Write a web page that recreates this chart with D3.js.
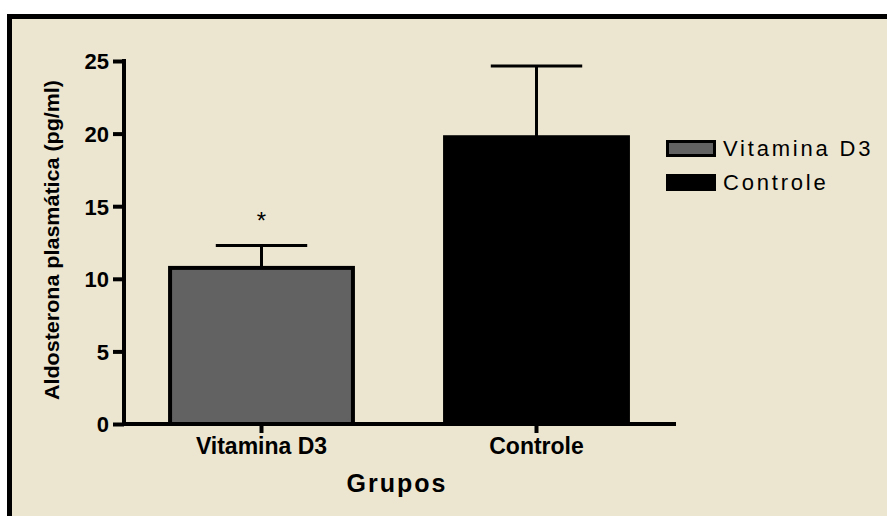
<!DOCTYPE html>
<html>
<head>
<meta charset="utf-8">
<script src="https://cdn.jsdelivr.net/npm/d3@7"></script>
<style>
    body { margin: 0; background: #fff; }
    svg { display: block; }
    text { font-family: "Liberation Sans", Arial, sans-serif; }
</style>
</head>
<body>
<div id="container"></div>
<script>
// 数据
const groups = ["Vitamina D3", "Controle"];
const means = [10.75, 19.75];
const sems = [1.55, 4.9];
const marks = ["*", ""];
const yTicks = [0, 5, 10, 15, 20, 25];

const W = 887, H = 516;
const fills = ["#626262", "#000000"];

const svg = d3.select("#container").append("svg")
    .attr("width", W).attr("height", H);

// 背景框
svg.append("rect")
    .attr("x", 9.5).attr("y", 16.5)
    .attr("width", W + 10).attr("height", H + 10)
    .attr("fill", "#ece6d0")
    .attr("stroke", "#000").attr("stroke-width", 5);

const y = d3.scaleLinear().domain([0, 25]).range([424, 61]);
const x = d3.scaleBand().domain(groups).range([124, 674]).padding(0);
const barW = x.bandwidth() * 0.665;

// y 轴
const yAxis = svg.append("g")
    .attr("transform", "translate(124,0)")
    .call(d3.axisLeft(y).tickValues(yTicks).tickSize(11).tickSizeOuter(0).tickPadding(4));
yAxis.select(".domain").remove();
yAxis.selectAll(".tick line").attr("stroke", "#000").attr("stroke-width", 4);
yAxis.selectAll(".tick text")
    .attr("fill", "#000")
    .style("font-size", "22px").style("font-weight", "bold")
    .attr("dy", "0.36em");
svg.append("line")
    .attr("x1", 124).attr("x2", 124)
    .attr("y1", y(25) - 2).attr("y2", y(0) + 2)
    .attr("stroke", "#000").attr("stroke-width", 4);

// 柱子
const bars = svg.append("g");
bars.selectAll("rect")
    .data(groups)
    .enter()
    .append("rect")
    .attr("x", (d) => x(d) + x.bandwidth() / 2 - barW / 2)
    .attr("y", (d, i) => y(means[i]))
    .attr("width", barW)
    .attr("height", (d, i) => y(0) - y(means[i]))
    .attr("fill", (d, i) => fills[i])
    .attr("stroke", "#000")
    .attr("stroke-width", 4);

// 误差线
const err = svg.append("g");
groups.forEach((g, i) => {
    const cx = x(g) + x.bandwidth() / 2;
    err.append("line")
        .attr("x1", cx).attr("x2", cx)
        .attr("y1", y(means[i])).attr("y2", y(means[i] + sems[i]))
        .attr("stroke", "#000").attr("stroke-width", 3);
    err.append("line")
        .attr("x1", cx - barW / 4).attr("x2", cx + barW / 4)
        .attr("y1", y(means[i] + sems[i])).attr("y2", y(means[i] + sems[i]))
        .attr("stroke", "#000").attr("stroke-width", 3);
    if (marks[i]) {
        err.append("text")
            .attr("x", cx).attr("y", y(means[i] + sems[i]) - 16)
            .attr("text-anchor", "middle")
            .style("font-size", "24px")
            .text(marks[i]);
    }
});

// x 轴
const xAxis = svg.append("g")
    .attr("transform", "translate(0,424)")
    .call(d3.axisBottom(x).tickSize(9).tickSizeOuter(0).tickPadding(5));
xAxis.select(".domain").remove();
xAxis.selectAll(".tick line").attr("stroke", "#000").attr("stroke-width", 4);
xAxis.selectAll(".tick text")
    .attr("fill", "#000")
    .style("font-size", "23px").style("font-weight", "bold");
svg.append("line")
    .attr("x1", 122).attr("x2", 676)
    .attr("y1", 424).attr("y2", 424)
    .attr("stroke", "#000").attr("stroke-width", 4);

// 轴标题
svg.append("text")
    .attr("x", 397).attr("y", 492)
    .attr("text-anchor", "middle")
    .style("font-size", "25px").style("font-weight", "bold")
    .style("letter-spacing", "2px")
    .text("Grupos");

svg.append("text")
    .attr("transform", "translate(59,240) rotate(-90)")
    .attr("text-anchor", "middle")
    .attr("textLength", 320)
    .attr("lengthAdjust", "spacingAndGlyphs")
    .style("font-size", "20px").style("font-weight", "bold")
    .text("Aldosterona plasmática (pg/ml)");

// 图例
const legend = svg.append("g");
groups.forEach((g, i) => {
    const ly = 140 + i * 34;
    legend.append("rect")
        .attr("x", 667.5).attr("y", ly + 1.5)
        .attr("width", 47).attr("height", 14)
        .attr("fill", fills[i])
        .attr("stroke", "#000").attr("stroke-width", 3);
    legend.append("text")
        .attr("x", 723).attr("y", ly + 16)
        .style("font-size", "22px")
        .style("letter-spacing", "2.8px")
        .text(g);
});
</script>
</body>
</html>
